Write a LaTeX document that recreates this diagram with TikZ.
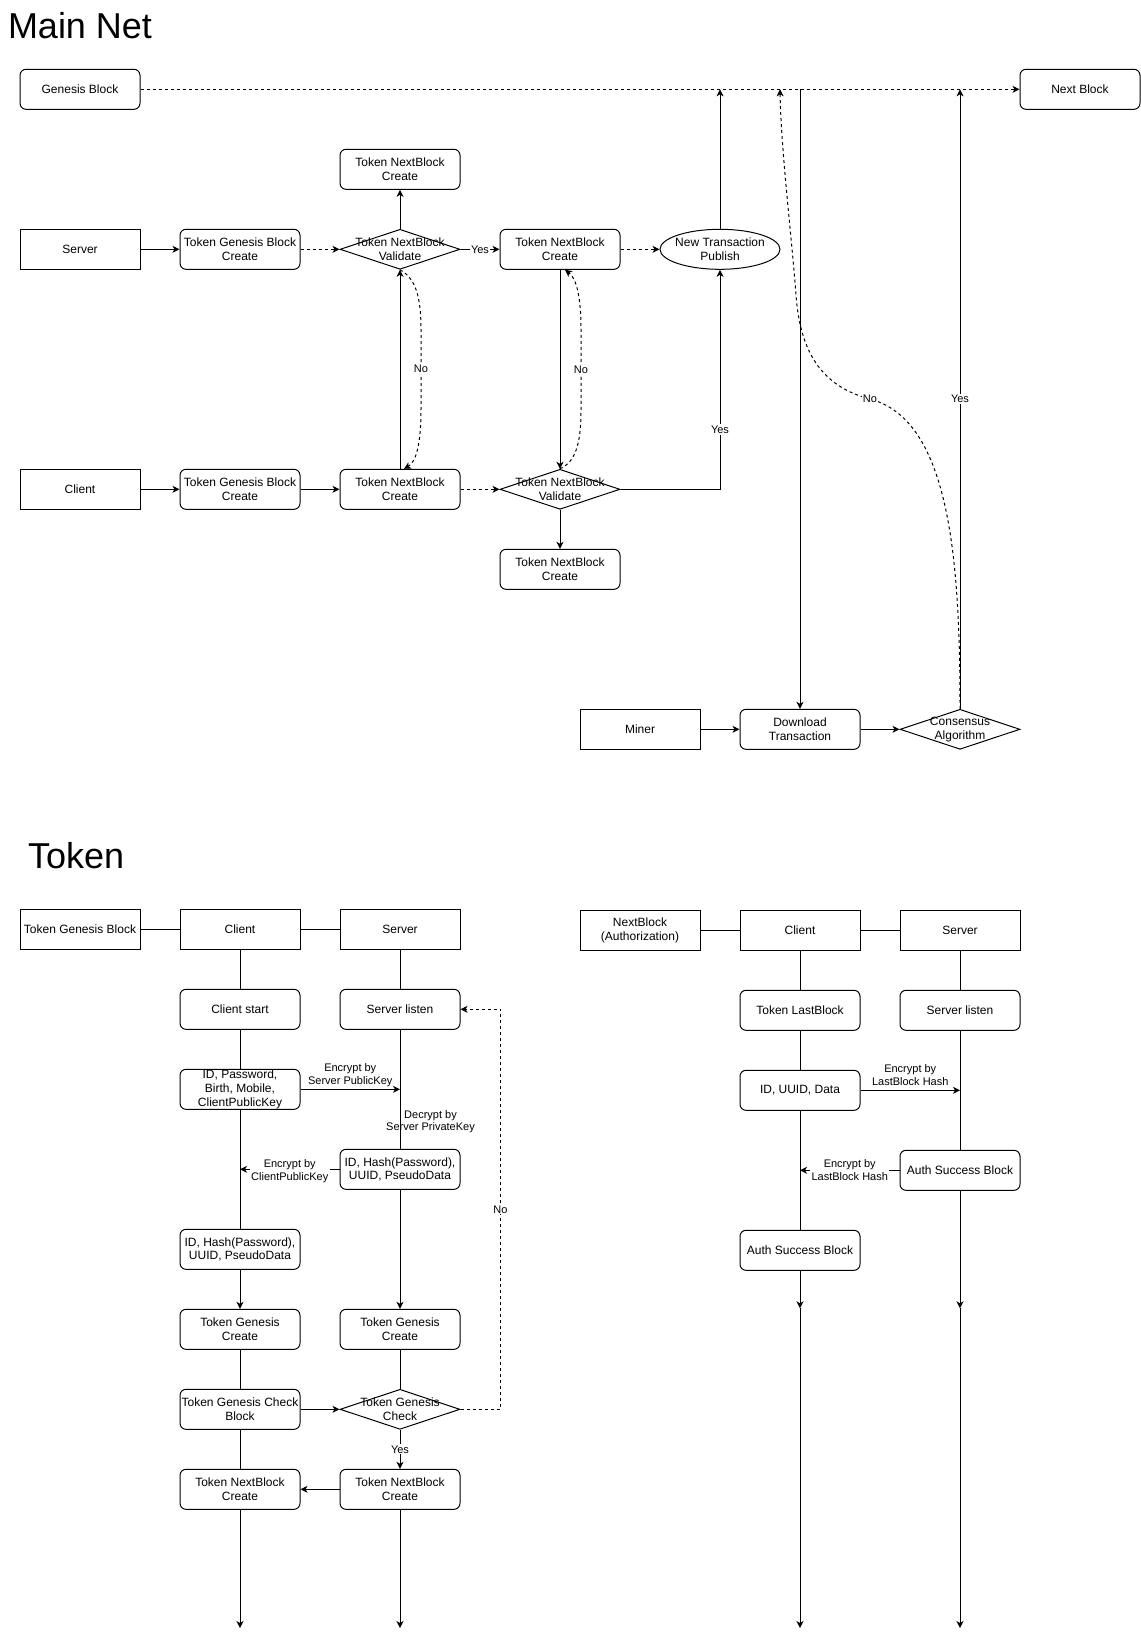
\documentclass[tikz,border=0pt]{standalone}
\usepackage{fontspec}
\setmainfont{Liberation Sans}
\usetikzlibrary{arrows.meta,shapes.geometric}

\begin{document}
\begin{tikzpicture}[
  x=0.75pt, y=-0.75pt,
  line width=0.75pt,
  every node/.style={inner sep=0pt},
  btext/.style={font=\fontsize{9}{10.3}\selectfont, align=center},
  box/.style={draw, rectangle, minimum width=90pt, minimum height=30pt, btext},
  rbox/.style={box, rounded corners=4.5pt},
  dia/.style={draw, diamond, minimum width=90pt, minimum height=30pt, shape aspect=3},
  oval/.style={draw, ellipse, minimum width=90pt, minimum height=30pt},
  lbl/.style={font=\fontsize{8.25}{9.5}\selectfont, align=center},
  lblw/.style={lbl, fill=white, inner sep=1pt},
  arr/.style={-{Stealth[length=5.25pt,width=5.25pt,inset=1.5pt]}},
  dsh/.style={dash pattern=on 2.25pt off 2.25pt},
  title/.style={font=\fontsize{27}{30}\selectfont, anchor=base west},
]
\path[use as bounding box] (0,0) rectangle (1141,1639);

% ---------------- Main Net ----------------
\node[title] (t1) at (7.5,38.3) {Main Net};

\node[rbox] (gen)  at (80,89.3)   {Genesis Block};
\node[rbox] (next) at (1080,89.3) {Next Block};

\node[box]  (srv)   at (80,249.3)  {Server};
\node[rbox] (tgbc1) at (240,249.3) {Token Genesis Block\\Create};
\node[dia, label={[btext]center:{Token NextBlock\\Validate}}] (val1) at (400,249.3) {};
\node[rbox] (nbc0)  at (400,169.3) {Token NextBlock\\Create};
\node[rbox] (nbc1)  at (560,249.3) {Token NextBlock\\Create};
\node[oval, label={[btext]center:{New Transaction\\Publish}}] (ntp) at (720,249.3) {};

\node[box]  (cli)   at (80,489.3)  {Client};
\node[rbox] (tgbc2) at (240,489.3) {Token Genesis Block\\Create};
\node[rbox] (nbc2)  at (400,489.3) {Token NextBlock\\Create};
\node[dia, label={[btext]center:{Token NextBlock\\Validate}}] (val2) at (560,489.3) {};
\node[rbox] (nbc3)  at (560,569.3) {Token NextBlock\\Create};

\node[box]  (miner) at (640,729.3) {Miner};
\node[rbox] (dl)    at (800,729.3) {Download\\Transaction};
\node[dia, label={[btext]center:{Consensus\\Algorithm}}] (cons) at (960,729.3) {};

\coordinate (noin) at (780,89.3);

% chain line
\draw[dsh, arr] (gen.east) -- (next.west);
\draw[arr] (ntp.north) -- (ntp.north |- gen.east);
\draw[arr] (dl.north |- gen.east) -- (dl.north);
\draw[arr] (cons.north) -- node[lblw] {Yes} (cons.north |- gen.east);
\draw[dsh, arr] (cons.north) .. controls (960,560) and (950,420) .. (870,399)
  node[lblw] {No}
  .. controls (820,386) and (800,350) .. (796,295)
  .. controls (792,240) and (781,150) .. (noin);

% server row
\draw[arr] (srv.east) -- (tgbc1.west);
\draw[dsh, arr] (tgbc1.east) -- (val1.west);
\draw[arr] (val1.north) -- (nbc0.south);
\draw[arr] (val1.east) -- node[lblw] {Yes} (nbc1.west);
\draw[dsh, arr] (nbc1.east) -- (ntp.west);

% client row
\draw[arr] (cli.east) -- (tgbc2.west);
\draw[arr] (tgbc2.east) -- (nbc2.west);
\draw[dsh, arr] (nbc2.east) -- (val2.west);
\draw[arr] (val2.south) -- (nbc3.north);
\draw[arr] (val2.east) -| node[lblw, pos=0.636] {Yes} (ntp.south);

% validation loops
\draw[arr] (nbc2.north) -- (val1.south);
\draw[dsh, arr] (val1.south) .. controls (415,278) and (421,295) .. (421,330)
  -- node[lblw] {No} (421,408)
  .. controls (421,445) and (416,462) .. ([xshift=3pt]nbc2.north);
\draw[arr] (nbc1.south) -- (val2.north);
\draw[dsh, arr] (val2.north) .. controls (575,462) and (581,445) .. (581,410)
  -- node[lblw] {No} (581,330)
  .. controls (581,295) and (576,278) .. ([xshift=3.75pt]nbc1.south);

% miner row
\draw[arr] (miner.east) -- (dl.west);
\draw[arr] (dl.east) -- (cons.west);

% ---------------- Token ----------------
\node[title] (t2) at (27.5,868.3) {Token};

\node[box]  (tgb)    at (80,929.3)   {Token Genesis Block};
\node[box]  (tcl)    at (240,929.3)  {Client};
\node[box]  (tsv)    at (400,929.3)  {Server};
\node[rbox] (cstart) at (240,1009.3) {Client start};
\node[rbox] (slisten) at (400,1009.3) {Server listen};
\node[rbox] (idpw)   at (240,1089.3) {ID, Password,\\Birth, Mobile,\\ClientPublicKey};
\node[rbox] (shash)  at (400,1169.3) {ID, Hash(Password),\\UUID, PseudoData};
\node[rbox] (chash)  at (240,1249.3) {ID, Hash(Password),\\UUID, PseudoData};
\node[rbox] (tgc1)   at (240,1329.3) {Token Genesis\\Create};
\node[rbox] (tgc2)   at (400,1329.3) {Token Genesis\\Create};
\node[rbox] (tgcb)   at (240,1409.3) {Token Genesis Check\\Block};
\node[dia, label={[btext]center:{Token Genesis\\Check}}] (tgck) at (400,1409.3) {};
\node[rbox] (tnb1)   at (240,1489.3) {Token NextBlock\\Create};
\node[rbox] (tnb2)   at (400,1489.3) {Token NextBlock\\Create};
\node[lbl]  (dec)    at (430.5,1121.5) {Decrypt by\\Server PrivateKey};

\coordinate (cend) at (240,1628);
\coordinate (send) at (400,1628);
\coordinate (nocorner) at (500.5,1009.3);

\draw (tgb.east) -- (tcl.west);
\draw (tcl.east) -- (tsv.west);

% client lifeline
\draw (tcl.south) -- (cstart.north);
\draw (cstart.south) -- (idpw.north);
\draw (idpw.south) -- (chash.north);
\draw[arr] (chash.south) -- (tgc1.north);
\draw (tgc1.south) -- (tgcb.north);
\draw (tgcb.south) -- (tnb1.north);
\draw[arr] (tnb1.south) -- (cend);

% server lifeline
\draw (tsv.south) -- (slisten.north);
\draw (slisten.south) -- (shash.north);
\draw[arr] (shash.south) -- (tgc2.north);
\draw (tgc2.south) -- (tgck.north);
\draw[arr] (tgck.south) -- node[lblw] {Yes} (tnb2.north);
\draw[arr] (tnb2.south) -- (send);

% messages
\draw[arr] (idpw.east) -- node[lbl, above=1.5pt] {Encrypt by\\Server PublicKey} (idpw.east -| shash);
\draw[arr] (shash.west) -- node[lblw, yshift=-1.5pt] {Encrypt by\\ClientPublicKey} (shash.west -| chash);
\draw[arr] (tgcb.east) -- (tgck.west);
\draw[arr] (tnb2.west) -- (tnb1.east);
\draw[dsh, arr] (tgck.east) -| node[lblw, pos=0.75] {No} (nocorner) -- (slisten.east);

% ---------------- Authorization ----------------
\node[box]  (nba)  at (640,930.3)  {NextBlock\\(Authorization)};
\node[box]  (rcl)  at (800,930.3)  {Client};
\node[box]  (rsv)  at (960,930.3)  {Server};
\node[rbox] (tlb)  at (800,1010.3) {Token LastBlock};
\node[rbox] (rsl)  at (960,1010.3) {Server listen};
\node[rbox] (iud)  at (800,1090.3) {ID, UUID, Data};
\node[rbox] (asb1) at (960,1170.3) {Auth Success Block};
\node[rbox] (asb2) at (800,1250.3) {Auth Success Block};

\coordinate (rcm) at (800,1308.3);
\coordinate (rsm) at (960,1308.3);
\coordinate (rce) at (800,1628);
\coordinate (rse) at (960,1628);

\draw (nba.east) -- (rcl.west);
\draw (rcl.east) -- (rsv.west);

\draw (rcl.south) -- (tlb.north);
\draw (tlb.south) -- (iud.north);
\draw (iud.south) -- (asb2.north);
\draw[arr] (asb2.south) -- (rcm);
\draw[arr] (rcm) -- (rce);

\draw (rsv.south) -- (rsl.north);
\draw (rsl.south) -- (asb1.north);
\draw[arr] (asb1.south) -- (rsm);
\draw[arr] (rsm) -- (rse);

\draw[arr] (iud.east) -- node[lbl, above=3.5pt] {Encrypt by\\LastBlock Hash} (iud.east -| asb1);
\draw[arr] (asb1.west) -- node[lblw] {Encrypt by\\LastBlock Hash} (asb1.west -| asb2);

\end{tikzpicture}
\end{document}
